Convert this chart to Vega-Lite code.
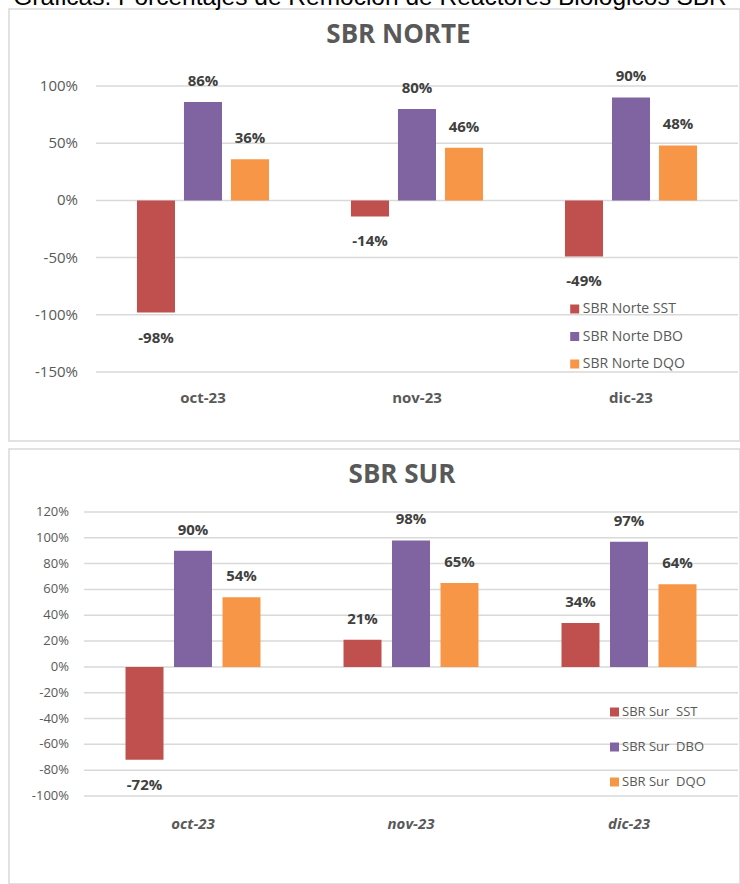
{
  "$schema": "https://vega.github.io/schema/vega-lite/v6.json",
  "background": "white",
  "padding": {"left": 8, "top": -15, "right": 0, "bottom": 0},
  "title": {"text": "Gráficas: Porcentajes de Remoción de Reactores Biológicos SBR", "anchor": "start", "font": "Liberation Sans", "fontSize": 24.5, "fontWeight": "normal", "color": "#000000", "baseline": "alphabetic", "offset": -21.5, "dx": 5},
  "datasets": {
    "norte": [
      {"mes": "oct-23", "serie": "SBR Norte SST", "valor": -0.98},
      {"mes": "oct-23", "serie": "SBR Norte DBO", "valor": 0.86},
      {"mes": "oct-23", "serie": "SBR Norte DQO", "valor": 0.36},
      {"mes": "nov-23", "serie": "SBR Norte SST", "valor": -0.14},
      {"mes": "nov-23", "serie": "SBR Norte DBO", "valor": 0.80},
      {"mes": "nov-23", "serie": "SBR Norte DQO", "valor": 0.46},
      {"mes": "dic-23", "serie": "SBR Norte SST", "valor": -0.49},
      {"mes": "dic-23", "serie": "SBR Norte DBO", "valor": 0.90},
      {"mes": "dic-23", "serie": "SBR Norte DQO", "valor": 0.48}
    ],
    "sur": [
      {"mes": "oct-23", "serie": "SBR Sur\u00a0 SST", "valor": -0.72},
      {"mes": "oct-23", "serie": "SBR Sur\u00a0 DBO", "valor": 0.90},
      {"mes": "oct-23", "serie": "SBR Sur\u00a0 DQO", "valor": 0.54},
      {"mes": "nov-23", "serie": "SBR Sur\u00a0 SST", "valor": 0.21},
      {"mes": "nov-23", "serie": "SBR Sur\u00a0 DBO", "valor": 0.98},
      {"mes": "nov-23", "serie": "SBR Sur\u00a0 DQO", "valor": 0.65},
      {"mes": "dic-23", "serie": "SBR Sur\u00a0 SST", "valor": 0.34},
      {"mes": "dic-23", "serie": "SBR Sur\u00a0 DBO", "valor": 0.97},
      {"mes": "dic-23", "serie": "SBR Sur\u00a0 DQO", "valor": 0.64}
    ],
    "meses": [{"mes": "oct-23"}, {"mes": "nov-23"}, {"mes": "dic-23"}],
    "norteGrid": [
      {"valor": -1.5}, {"valor": -1.0}, {"valor": -0.5}, {"valor": 0}, {"valor": 0.5}, {"valor": 1.0}
    ],
    "surGrid": [
      {"valor": -1.0}, {"valor": -0.8}, {"valor": -0.6}, {"valor": -0.4}, {"valor": -0.2}, {"valor": 0},
      {"valor": 0.2}, {"valor": 0.4}, {"valor": 0.6}, {"valor": 0.8}, {"valor": 1.0}, {"valor": 1.2}
    ]
  },
  "spacing": 6,
  "vconcat": [
    {
      "width": 731,
      "height": 432,
      "layer": [
        {
          "data": {"name": "norteGrid"},
          "mark": {"type": "rule", "color": "#D9D9D9", "strokeWidth": 1.5},
          "encoding": {
            "y": {"field": "valor", "type": "quantitative", "scale": {"domain": [-2.103, 1.673], "nice": false, "zero": false}},
            "x": {"datum": "oct-23", "type": "nominal", "bandPosition": 0, "scale": {"domain": ["oct-23", "nov-23", "dic-23"], "paddingInner": 0, "paddingOuter": 0.2079, "align": 0.9775}},
            "x2": {"datum": "dic-23", "bandPosition": 1}
          }
        },
        {
          "data": {"name": "norteGrid"},
          "mark": {"type": "text", "align": "right", "baseline": "middle", "dx": -18, "font": "Open Sans", "fontSize": 15, "color": "#595959"},
          "encoding": {
            "y": {"field": "valor", "type": "quantitative"},
            "x": {"datum": "oct-23", "type": "nominal", "bandPosition": 0},
            "text": {"field": "valor", "type": "quantitative", "format": ".0%"}
          }
        },
        {
          "data": {"name": "norte"},
          "mark": {"type": "bar"},
          "encoding": {
            "x": {"field": "mes", "type": "nominal"},
            "xOffset": {"field": "serie", "type": "nominal", "scale": {"domain": ["SBR Norte SST", "SBR Norte DBO", "SBR Norte DQO"], "paddingInner": 0.191, "paddingOuter": 0.872}},
            "y": {"field": "valor", "type": "quantitative"},
            "color": {"field": "serie", "type": "nominal",
                      "scale": {"domain": ["SBR Norte SST", "SBR Norte DBO", "SBR Norte DQO"], "range": ["#C0504D", "#8064A2", "#F79646"]},
                      "legend": {"orient": "none", "legendX": 558.7, "legendY": 293, "title": null, "symbolType": "square", "symbolSize": 81, "symbolStrokeWidth": 0, "labelFontSize": 14, "labelColor": "#595959", "labelFont": "Open Sans", "rowPadding": 13.5, "labelOffset": 1, "padding": 0}}
          }
        },
        {
          "data": {"name": "norte"},
          "transform": [{"filter": "datum.valor >= 0"}],
          "mark": {"type": "text", "baseline": "alphabetic", "dy": -16, "font": "Open Sans", "fontWeight": "bold", "fontSize": 15, "color": "#404040"},
          "encoding": {
            "x": {"field": "mes", "type": "nominal"},
            "xOffset": {"field": "serie", "type": "nominal"},
            "y": {"field": "valor", "type": "quantitative"},
            "text": {"field": "valor", "type": "quantitative", "format": ".0%"}
          }
        },
        {
          "data": {"name": "norte"},
          "transform": [{"filter": "datum.valor < 0"}],
          "mark": {"type": "text", "baseline": "alphabetic", "dy": 30, "font": "Open Sans", "fontWeight": "bold", "fontSize": 15, "color": "#404040"},
          "encoding": {
            "x": {"field": "mes", "type": "nominal"},
            "xOffset": {"field": "serie", "type": "nominal"},
            "y": {"field": "valor", "type": "quantitative"},
            "text": {"field": "valor", "type": "quantitative", "format": ".0%"}
          }
        },
        {
          "data": {"name": "meses"},
          "mark": {"type": "text", "baseline": "alphabetic", "dy": 31, "font": "Open Sans", "fontWeight": "bold", "fontSize": 15, "color": "#595959"},
          "encoding": {
            "x": {"field": "mes", "type": "nominal"},
            "y": {"datum": -1.5, "type": "quantitative"},
            "text": {"field": "mes", "type": "nominal"}
          }
        },
        {
          "data": {"values": [{"titulo": "SBR NORTE"}]},
          "mark": {"type": "text", "baseline": "alphabetic", "dy": 34, "dx": -18.5, "font": "Open Sans", "fontWeight": "bold", "fontSize": 26, "color": "#595959"},
          "encoding": {
            "x": {"datum": "nov-23", "type": "nominal"},
            "y": {"datum": 1.673, "type": "quantitative"},
            "text": {"field": "titulo", "type": "nominal"}
          }
        }
      ]
    },
    {
      "width": 731,
      "height": 435,
      "layer": [
        {
          "data": {"name": "surGrid"},
          "mark": {"type": "rule", "color": "#D9D9D9", "strokeWidth": 1.5},
          "encoding": {
            "y": {"field": "valor", "type": "quantitative", "scale": {"domain": [-1.682, 1.688], "nice": false, "zero": false}},
            "x": {"datum": "oct-23", "type": "nominal", "bandPosition": 0, "scale": {"domain": ["oct-23", "nov-23", "dic-23"], "paddingInner": 0, "paddingOuter": 0.1766, "align": 0.974}},
            "x2": {"datum": "dic-23", "bandPosition": 1}
          }
        },
        {
          "data": {"name": "surGrid"},
          "mark": {"type": "text", "align": "right", "baseline": "middle", "dx": -15, "font": "Open Sans", "fontSize": 13, "color": "#595959"},
          "encoding": {
            "y": {"field": "valor", "type": "quantitative"},
            "x": {"datum": "oct-23", "type": "nominal", "bandPosition": 0},
            "text": {"field": "valor", "type": "quantitative", "format": ".0%"}
          }
        },
        {
          "data": {"name": "sur"},
          "mark": {"type": "bar"},
          "encoding": {
            "x": {"field": "mes", "type": "nominal"},
            "xOffset": {"field": "serie", "type": "nominal", "scale": {"domain": ["SBR Sur\u00a0 SST", "SBR Sur\u00a0 DBO", "SBR Sur\u00a0 DQO"], "paddingInner": 0.2165, "paddingOuter": 0.856}},
            "y": {"field": "valor", "type": "quantitative"},
            "color": {"field": "serie", "type": "nominal",
                      "scale": {"domain": ["SBR Sur\u00a0 SST", "SBR Sur\u00a0 DBO", "SBR Sur\u00a0 DQO"], "range": ["#C0504D", "#8064A2", "#F79646"]},
                      "legend": {"orient": "none", "legendX": 599, "legendY": 256.5, "title": null, "symbolType": "square", "symbolSize": 81, "symbolStrokeWidth": 0, "labelFontSize": 13, "labelColor": "#595959", "labelFont": "Open Sans", "rowPadding": 21, "labelOffset": 1, "padding": 0}}
          }
        },
        {
          "data": {"name": "sur"},
          "transform": [{"filter": "datum.valor >= 0"}],
          "mark": {"type": "text", "baseline": "alphabetic", "dy": -16, "font": "Open Sans", "fontWeight": "bold", "fontSize": 15, "color": "#404040"},
          "encoding": {
            "x": {"field": "mes", "type": "nominal"},
            "xOffset": {"field": "serie", "type": "nominal"},
            "y": {"field": "valor", "type": "quantitative"},
            "text": {"field": "valor", "type": "quantitative", "format": ".0%"}
          }
        },
        {
          "data": {"name": "sur"},
          "transform": [{"filter": "datum.valor < 0"}],
          "mark": {"type": "text", "baseline": "alphabetic", "dy": 30, "font": "Open Sans", "fontWeight": "bold", "fontSize": 15, "color": "#404040"},
          "encoding": {
            "x": {"field": "mes", "type": "nominal"},
            "xOffset": {"field": "serie", "type": "nominal"},
            "y": {"field": "valor", "type": "quantitative"},
            "text": {"field": "valor", "type": "quantitative", "format": ".0%"}
          }
        },
        {
          "data": {"name": "meses"},
          "mark": {"type": "text", "baseline": "alphabetic", "dy": 33, "font": "Open Sans", "fontWeight": "bold", "fontStyle": "italic", "fontSize": 15, "color": "#595959"},
          "encoding": {
            "x": {"field": "mes", "type": "nominal"},
            "y": {"datum": -1.0, "type": "quantitative"},
            "text": {"field": "mes", "type": "nominal"}
          }
        },
        {
          "data": {"values": [{"titulo": "SBR SUR"}]},
          "mark": {"type": "text", "baseline": "alphabetic", "dy": 34, "dx": -9, "font": "Open Sans", "fontWeight": "bold", "fontSize": 26, "color": "#595959"},
          "encoding": {
            "x": {"datum": "nov-23", "type": "nominal"},
            "y": {"datum": 1.688, "type": "quantitative"},
            "text": {"field": "titulo", "type": "nominal"}
          }
        }
      ]
    }
  ],
  "resolve": {"scale": {"x": "independent", "y": "independent", "xOffset": "independent", "color": "independent"}, "legend": {"color": "independent"}},
  "config": {
    "view": {"stroke": "#D9D9D9", "strokeWidth": 1.5},
    "font": "Open Sans",
    "axis": {"disable": true},
    "locale": {"number": {"decimal": ".", "thousands": ",", "grouping": [3], "currency": ["$", ""], "minus": "-", "percent": "%"}}
  }
}
